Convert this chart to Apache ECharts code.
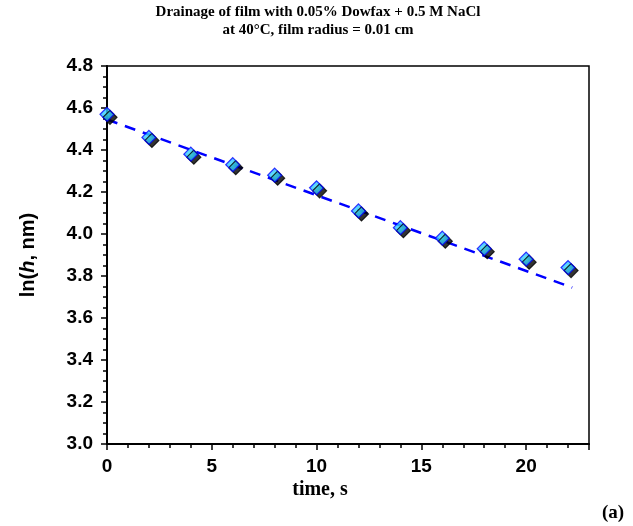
<!DOCTYPE html>
<html><head><meta charset="utf-8">
<script src="https://cdn.jsdelivr.net/npm/echarts@6/dist/echarts.min.js"></script>
<style>html,body{margin:0;padding:0;background:#fff}#c{width:633px;height:526px}</style>
</head><body><div id="c"></div>
<script>
const timeS = [0, 2, 4, 6, 8, 10, 12, 14, 16, 18, 20, 22];
const lnH = [4.57, 4.46, 4.38, 4.33, 4.28, 4.22, 4.11, 4.03, 3.98, 3.93, 3.88, 3.84];
const fitX = [0, 22.2];
const fitY = [4.545, 3.745];
const xTicks = [0, 5, 10, 15, 20];
const yTicks = [3.0, 3.2, 3.4, 3.6, 3.8, 4.0, 4.2, 4.4, 4.6, 4.8];

const chart = echarts.init(document.getElementById('c'), null, {renderer: 'canvas'});
const sans = 'Liberation Sans, Arial, sans-serif';
const serif = 'Liberation Serif, Times New Roman, serif';
chart.setOption({
  animation: false,
  backgroundColor: '#fff',
  title: {
    text: 'Drainage of film with 0.05% Dowfax + 0.5 M NaCl\nat 40°C, film radius = 0.01 cm',
    left: 318, top: 3, padding: 0, textAlign: 'center',
    textStyle: {fontFamily: serif, fontWeight: 'bold', fontSize: 15, lineHeight: 18, color: '#000'}
  },
  grid: {left: 107, right: 44, top: 66, bottom: 82, show: true, borderColor: '#000', borderWidth: 1.5},
  xAxis: {
    type: 'value', min: 0, max: 23, interval: 5,
    axisLine: {show: true, lineStyle: {color: '#000', width: 2}},
    axisTick: {show: true, length: 6, lineStyle: {color: '#000', width: 1.5}},
    minorTick: {show: true, splitNumber: 5, length: 4, lineStyle: {color: '#000', width: 1.5}},
    splitLine: {show: false},
    axisLabel: {
      margin: 13, fontFamily: sans, fontWeight: 'bold', fontSize: 19, color: '#000',
      formatter: v => xTicks.includes(v) ? String(v) : ''
    }
  },
  yAxis: {
    type: 'value', min: 3.0, max: 4.8, interval: 0.2,
    axisLine: {show: true, lineStyle: {color: '#000', width: 2}},
    axisTick: {show: true, length: 6, lineStyle: {color: '#000', width: 1.5}},
    minorTick: {show: true, splitNumber: 4, length: 4, lineStyle: {color: '#000', width: 1.5}},
    splitLine: {show: false},
    axisLabel: {
      margin: 14, fontFamily: sans, fontWeight: 'bold', fontSize: 19, color: '#000',
      formatter: v => {
        const t = yTicks.find(k => Math.abs(k - v) < 1e-6);
        return t === undefined ? '' : t.toFixed(1);
      }
    },
    name: '{a|ln(}{i|h}{a|, nm)}', nameLocation: 'middle', nameGap: 69,
    nameTextStyle: {
      fontFamily: sans, fontWeight: 'bold', fontSize: 20, color: '#000',
      rich: {
        a: {fontFamily: sans, fontWeight: 'bold', fontSize: 20, color: '#000'},
        i: {fontFamily: sans, fontWeight: 'bold', fontStyle: 'italic', fontSize: 20, color: '#000'}
      }
    }
  },
  series: [
    {
      type: 'line', data: fitX.map((x, i) => [x, fitY[i]]),
      symbol: 'none', z: 2,
      lineStyle: {color: '#0000ff', width: 2.5, type: [11, 8]}
    },
    {
      type: 'scatter', data: timeS.map((t, i) => [t, lnH[i]]),
      symbol: 'diamond', symbolSize: 14, z: 3,
      itemStyle: {
        color: new echarts.graphic.RadialGradient(0.5, 0.5, 0.6, [
          {offset: 0, color: '#40f0ff'},
          {offset: 1, color: '#1a8cff'}
        ]),
        borderColor: '#0000ff', borderWidth: 1.2,
        shadowColor: '#000', shadowOffsetX: 3, shadowOffsetY: 3, shadowBlur: 0
      }
    }
  ],
  graphic: [
    {
      type: 'text', x: 320, y: 490,
      style: {text: 'time, s', fontFamily: serif, fontWeight: 'bold', fontSize: 20, fill: '#000',
              align: 'center', verticalAlign: 'middle'}
    },
    {
      type: 'text', x: 613, y: 513,
      style: {text: '(a)', fontFamily: serif, fontWeight: 'bold', fontSize: 19, fill: '#000',
              align: 'center', verticalAlign: 'middle'}
    }
  ]
});
</script></body></html>
